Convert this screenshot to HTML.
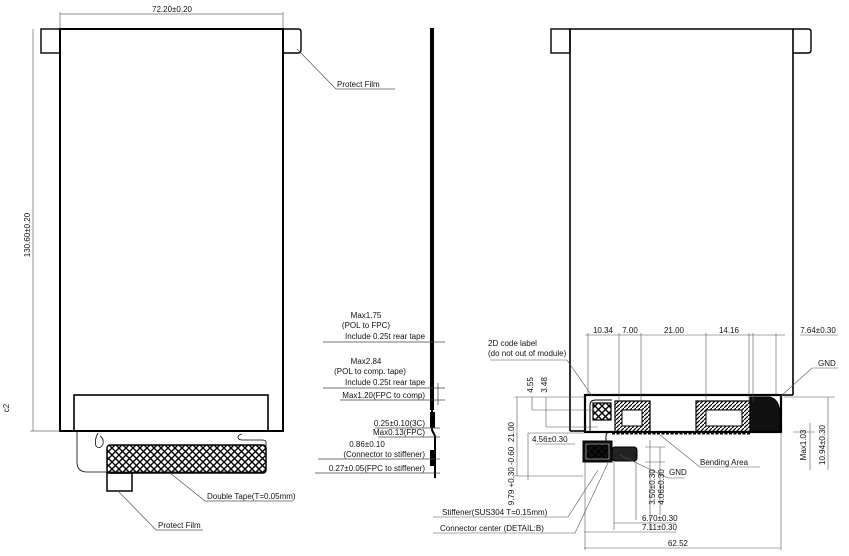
<!DOCTYPE html>
<html><head><meta charset="utf-8"><style>
html,body{margin:0;padding:0;background:#fff;}
svg{display:block;}
text{font-family:"Liberation Sans Narrow","Liberation Sans",sans-serif;font-size:8px;fill:#111;}
</style></head><body>
<svg width="849" height="556" viewBox="0 0 849 556" xmlns="http://www.w3.org/2000/svg">
<defs>
<pattern id="xh" width="7" height="7" patternUnits="userSpaceOnUse">
<path d="M0 0L7 7M7 0L0 7" stroke="#000" stroke-width="1.4"/>
</pattern>
<pattern id="dh" width="4" height="4" patternUnits="userSpaceOnUse">
<path d="M0 4L4 0" stroke="#000" stroke-width="1.2"/>
</pattern>
</defs>
<g fill="none" stroke="#000">
<line x1="60" y1="14" x2="283" y2="14" stroke="#666" stroke-width="0.7"/>
<line x1="60" y1="12" x2="60" y2="29" stroke="#666" stroke-width="0.7"/>
<line x1="283" y1="12" x2="283" y2="29" stroke="#666" stroke-width="0.7"/>
<rect x="41" y="29" width="19" height="24" stroke-width="1.4"/>
<path d="M283 29H298Q301 29 301 32V50Q301 53 298 53H283" stroke-width="1.4"/>
<rect x="60" y="29" width="223" height="402" stroke-width="2"/>
<line x1="33" y1="29" x2="33" y2="431" stroke="#666" stroke-width="0.7"/>
<line x1="30" y1="431" x2="60" y2="431" stroke="#666" stroke-width="0.7"/>
<rect x="74" y="395" width="194" height="36" stroke-width="1.6"/>
<path d="M77 431V462Q77 472 87 472H262Q266 472 266 465V442Q266 440 262 440H242Q238 440 238 437Q238 435 242 434" stroke-width="0.8"/>
<path d="M98 433Q94 440 96 446Q100 450 103 444Q104 438 100 436" stroke-width="0.8"/>
<rect x="107" y="445" width="159" height="28" rx="3" fill="url(#xh)" stroke-width="1.5"/>
<rect x="107" y="473" width="25" height="18" stroke-width="1.5"/>
<path d="M118 491L156 530H203" stroke="#555" stroke-width="0.7"/>
<path d="M170 473L205 501H293" stroke="#555" stroke-width="0.7"/>
<path d="M297 49L336 89H395" stroke="#555" stroke-width="0.7"/>
<line x1="432" y1="28" x2="432" y2="410" stroke-width="4"/>
<path d="M432 410V430L435 436V478" stroke-width="2"/>
<rect x="430" y="412" width="5" height="16" fill="#000" stroke="none"/>
<rect x="430" y="450" width="4" height="16" fill="#000" stroke="none"/>
<g stroke="#444" stroke-width="0.7">
<line x1="323" y1="342" x2="445" y2="342"/>
<line x1="323" y1="388" x2="445" y2="388"/>
<line x1="340" y1="400" x2="445" y2="400"/>
<line x1="375" y1="428" x2="440" y2="428"/>
<line x1="378" y1="437" x2="440" y2="437"/>
<line x1="318" y1="459" x2="440" y2="459"/>
<line x1="315" y1="473" x2="440" y2="473"/>
<line x1="438" y1="383" x2="438" y2="405"/>
</g>
<rect x="551" y="29" width="19" height="24" stroke-width="1.4"/>
<path d="M793 29H808Q811 29 811 32V50Q811 53 808 53H793" stroke-width="1.4"/>
<path d="M570 431V29H793V395" stroke-width="1.6"/>
<line x1="570" y1="431" x2="585" y2="431" stroke-width="1.6"/>
<line x1="781" y1="395" x2="793" y2="395" stroke-width="1.6"/>
<rect x="585" y="395" width="196" height="37" stroke-width="2.2"/>
<path d="M590 432V405Q590 400 596 400H612" stroke-width="1"/>
<rect x="593" y="403" width="18" height="17" fill="url(#xh)" stroke-width="1.2"/>
<rect x="615" y="401" width="35" height="31" fill="url(#dh)" stroke-width="1.2"/>
<rect x="622" y="410" width="20" height="16" fill="#fff" stroke-width="1"/>
<rect x="696" y="401" width="54" height="31" fill="url(#dh)" stroke-width="1.2"/>
<rect x="706" y="410" width="36" height="16" fill="#fff" stroke-width="1"/>
<path d="M750 397H770Q780 400 780 415V431H750Z" fill="#111" stroke-width="1"/>
<line x1="612" y1="433" x2="750" y2="433" stroke-width="3" stroke-dasharray="3,1.5"/>
<rect x="583" y="441" width="29" height="21" fill="#111" stroke-width="1"/>
<rect x="586" y="444" width="23" height="15" fill="url(#xh)" stroke="#fff" stroke-width="0.5"/>
<rect x="612" y="447" width="25" height="14" rx="3" fill="#222" stroke-width="1"/>
<path d="M606 441V436Q606 432 610 432" stroke-width="1"/>
<g stroke="#555" stroke-width="0.6">
<line x1="585" y1="335" x2="785" y2="335"/>
<line x1="800" y1="335" x2="838" y2="335"/>
<line x1="588" y1="333" x2="588" y2="395"/>
<line x1="619" y1="333" x2="619" y2="401"/>
<line x1="641" y1="333" x2="641" y2="401"/>
<line x1="706" y1="333" x2="706" y2="401"/>
<line x1="749" y1="333" x2="749" y2="401"/>
<line x1="753" y1="333" x2="753" y2="401"/>
<line x1="776" y1="333" x2="776" y2="395"/>
<line x1="514" y1="397" x2="585" y2="397"/>
<line x1="514" y1="476" x2="583" y2="476"/>
<line x1="517" y1="397" x2="517" y2="476"/>
<line x1="532" y1="397" x2="532" y2="410"/>
<line x1="532" y1="410" x2="595" y2="410"/>
<line x1="546" y1="397" x2="546" y2="427"/>
<line x1="546" y1="427" x2="598" y2="427"/>
<line x1="528" y1="433" x2="528" y2="480"/>
<line x1="528" y1="433" x2="585" y2="433"/>
<line x1="535" y1="444" x2="575" y2="444"/>
<line x1="784" y1="397" x2="835" y2="397"/>
<line x1="793" y1="432" x2="815" y2="432"/>
<line x1="810" y1="423" x2="810" y2="470"/>
<line x1="828" y1="397" x2="828" y2="470"/>
<line x1="585" y1="462" x2="585" y2="550"/>
<line x1="614" y1="462" x2="614" y2="530"/>
<line x1="636" y1="461" x2="636" y2="520"/>
<line x1="781" y1="432" x2="781" y2="550"/>
<line x1="614" y1="523" x2="676" y2="523"/>
<line x1="584" y1="532" x2="676" y2="532"/>
<line x1="584" y1="548" x2="781" y2="548"/>
<line x1="650" y1="440" x2="650" y2="530"/>
<line x1="660" y1="447" x2="660" y2="515"/>
<line x1="645" y1="447" x2="665" y2="447"/>
<line x1="645" y1="462" x2="665" y2="462"/>
<path d="M598 470L568 517H433"/>
<path d="M608 463L575 533H433"/>
<path d="M592 396L567 360H490"/>
<path d="M780 397L812 368H838"/>
<path d="M660 435L700 467H760"/>
<path d="M620 455L668 478H685"/>
</g>
</g>
<text x="172" y="12" text-anchor="middle">72.20±0.20</text>
<text transform="translate(30,235) rotate(-90)" text-anchor="middle">130.60±0.20</text>
<text transform="translate(9,408) rotate(-90)" text-anchor="middle">c2</text>
<text x="337" y="87">Protect Film</text>
<text x="207" y="499">Double Tape(T=0.05mm)</text>
<text x="158" y="528">Protect Film</text>
<text x="366" y="318" text-anchor="middle">Max1.75</text>
<text x="366" y="328" text-anchor="middle">(POL to FPC)</text>
<text x="385" y="339" text-anchor="middle">Include 0.25t rear tape</text>
<text x="366" y="364" text-anchor="middle">Max2.84</text>
<text x="370" y="374" text-anchor="middle">(POL to comp. tape)</text>
<text x="385" y="385" text-anchor="middle">Include 0.25t rear tape</text>
<text x="425" y="398" text-anchor="end">Max1.20(FPC to comp)</text>
<text x="425" y="426" text-anchor="end">0.25±0.10(3C)</text>
<text x="425" y="435" text-anchor="end">Max0.13(FPC)</text>
<text x="367" y="447" text-anchor="middle">0.86±0.10</text>
<text x="425" y="457" text-anchor="end">(Connector to stiffener)</text>
<text x="425" y="471" text-anchor="end">0.27±0.05(FPC to stiffener)</text>
<text x="488" y="346">2D code label</text>
<text x="488" y="356">(do not out of module)</text>
<text x="603" y="333" text-anchor="middle">10.34</text>
<text x="630" y="333" text-anchor="middle">7.00</text>
<text x="674" y="333" text-anchor="middle">21.00</text>
<text x="729" y="333" text-anchor="middle">14.16</text>
<text x="818" y="333" text-anchor="middle">7.64±0.30</text>
<text x="818" y="366">GND</text>
<text transform="translate(533,385) rotate(-90)" text-anchor="middle">4.55</text>
<text transform="translate(547,385) rotate(-90)" text-anchor="middle">3.48</text>
<text transform="translate(514,432) rotate(-90)" text-anchor="middle">21.00</text>
<text x="532" y="442">4.56±0.30</text>
<text transform="translate(514,476) rotate(-90)" text-anchor="middle">9.79 +0.30 -0.60</text>
<text x="669" y="475">GND</text>
<text x="700" y="465">Bending Area</text>
<text transform="translate(806,445) rotate(-90)" text-anchor="middle">Max1.03</text>
<text transform="translate(825,445) rotate(-90)" text-anchor="middle">10.94±0.30</text>
<text transform="translate(655,487) rotate(-90)" text-anchor="middle">3.50±0.30</text>
<text transform="translate(664,487) rotate(-90)" text-anchor="middle">4.06±0.30</text>
<text x="642" y="521">6.70±0.30</text>
<text x="642" y="530">7.11±0.30</text>
<text x="678" y="546" text-anchor="middle">62.52</text>
<text x="442" y="515">Stiffener(SUS304 T=0.15mm)</text>
<text x="440" y="531">Connector center (DETAIL:B)</text>
</svg>
</body></html>
